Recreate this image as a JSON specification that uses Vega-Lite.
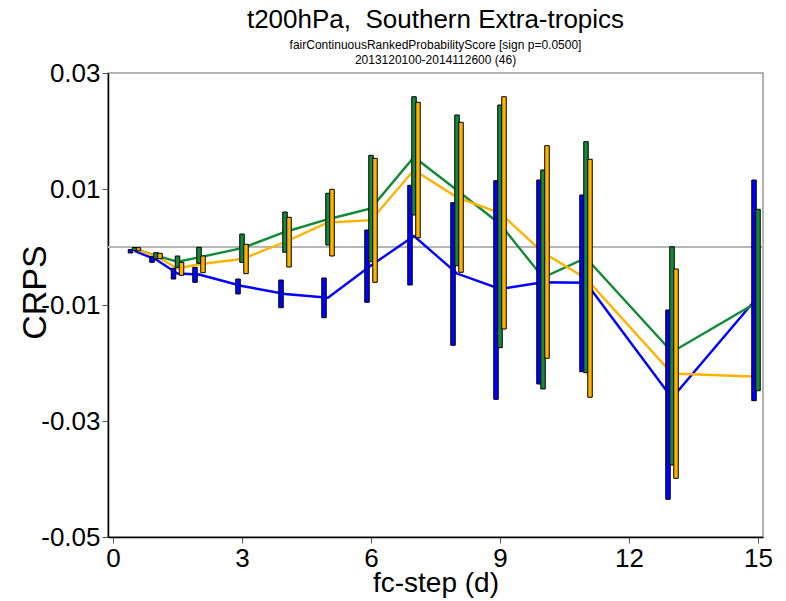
{
  "$schema": "https://vega.github.io/schema/vega-lite/v6.json",
  "autosize": "none",
  "width": 655,
  "height": 464,
  "padding": {"left": 108, "top": 73, "right": 23, "bottom": 64},
  "title": {
    "text": "t200hPa,\u00a0 Southern Extra-tropics",
    "subtitle": ["fairContinuousRankedProbabilityScore [sign p=0.0500]", "2013120100-2014112600 (46)"],
    "fontSize": 26,
    "fontWeight": "normal",
    "subtitleFontSize": 12,
    "subtitlePadding": 7,
    "subtitleLineHeight": 15,
    "anchor": "middle",
    "offset": -6,
    "color": "black",
    "subtitleColor": "black"
  },
  "config": {
    "font": "Liberation Sans",
    "view": {"stroke": "#999999", "strokeWidth": 1.5},
    "axis": {"grid": false, "domainColor": "black", "tickColor": "#555555", "labelColor": "black", "titleColor": "black", "labelFontSize": 26, "titleFontSize": 28, "titleFontWeight": "normal", "tickSize": 6, "domainWidth": 1.5}
  },
  "data": {
    "values": [
      {"series": "exp1", "d": 0.5, "v": -0.00069, "lo": -0.00103, "hi": -0.00043},
      {"series": "exp1", "d": 1, "v": -0.00216, "lo": -0.00264, "hi": -0.00167},
      {"series": "exp1", "d": 1.5, "v": -0.00457, "lo": -0.00552, "hi": -0.00367},
      {"series": "exp1", "d": 2, "v": -0.00474, "lo": -0.00609, "hi": -0.0035},
      {"series": "exp1", "d": 3, "v": -0.00672, "lo": -0.0081, "hi": -0.00552},
      {"series": "exp1", "d": 4, "v": -0.0081, "lo": -0.01047, "hi": -0.00569},
      {"series": "exp1", "d": 5, "v": -0.00874, "lo": -0.01219, "hi": -0.00534},
      {"series": "exp1", "d": 6, "v": -0.00319, "lo": -0.00953, "hi": 0.00293},
      {"series": "exp1", "d": 7, "v": 0.0019, "lo": -0.00655, "hi": 0.01064},
      {"series": "exp1", "d": 8, "v": -0.00457, "lo": -0.01695, "hi": 0.00764},
      {"series": "exp1", "d": 9, "v": -0.00724, "lo": -0.02626, "hi": 0.01143},
      {"series": "exp1", "d": 10, "v": -0.00609, "lo": -0.02362, "hi": 0.01155},
      {"series": "exp1", "d": 11, "v": -0.00616, "lo": -0.0215, "hi": 0.00897},
      {"series": "exp1", "d": 13, "v": -0.02603, "lo": -0.0435, "hi": -0.01086},
      {"series": "exp1", "d": 15, "v": -0.00857, "lo": -0.0265, "hi": 0.01155},
      {"series": "exp2", "d": 0.5, "v": -0.00034, "lo": -0.0006, "hi": -0.00009},
      {"series": "exp2", "d": 1, "v": -0.00147, "lo": -0.00202, "hi": -0.00098},
      {"series": "exp2", "d": 1.5, "v": -0.00253, "lo": -0.0035, "hi": -0.00155},
      {"series": "exp2", "d": 2, "v": -0.00178, "lo": -0.00281, "hi": -0.00005},
      {"series": "exp2", "d": 3, "v": -0.0002, "lo": -0.00264, "hi": 0.00224},
      {"series": "exp2", "d": 4, "v": 0.00259, "lo": -0.00091, "hi": 0.00603},
      {"series": "exp2", "d": 5, "v": 0.00479, "lo": 0.00034, "hi": 0.00926},
      {"series": "exp2", "d": 6, "v": 0.00666, "lo": -0.00253, "hi": 0.01581},
      {"series": "exp2", "d": 7, "v": 0.01552, "lo": 0.00552, "hi": 0.02591},
      {"series": "exp2", "d": 8, "v": 0.00979, "lo": -0.00322, "hi": 0.02276},
      {"series": "exp2", "d": 9, "v": 0.00397, "lo": -0.01736, "hi": 0.02448},
      {"series": "exp2", "d": 10, "v": -0.00526, "lo": -0.02448, "hi": 0.01328},
      {"series": "exp2", "d": 11, "v": -0.0019, "lo": -0.02167, "hi": 0.01816},
      {"series": "exp2", "d": 13, "v": -0.0181, "lo": -0.03759, "hi": 0.00005},
      {"series": "exp2", "d": 15, "v": -0.00943, "lo": -0.02478, "hi": 0.0065},
      {"series": "exp3", "d": 0.5, "v": -0.00034, "lo": -0.00064, "hi": -0.00012},
      {"series": "exp3", "d": 1, "v": -0.00155, "lo": -0.00202, "hi": -0.00109},
      {"series": "exp3", "d": 1.5, "v": -0.00371, "lo": -0.00488, "hi": -0.00264},
      {"series": "exp3", "d": 2, "v": -0.00298, "lo": -0.00443, "hi": -0.00155},
      {"series": "exp3", "d": 3, "v": -0.00207, "lo": -0.0046, "hi": 0.00047},
      {"series": "exp3", "d": 4, "v": 0.00086, "lo": -0.00345, "hi": 0.00512},
      {"series": "exp3", "d": 5, "v": 0.00422, "lo": -0.00155, "hi": 0.00995},
      {"series": "exp3", "d": 6, "v": 0.00462, "lo": -0.00609, "hi": 0.01529},
      {"series": "exp3", "d": 7, "v": 0.01328, "lo": 0.0016, "hi": 0.02495},
      {"series": "exp3", "d": 8, "v": 0.00857, "lo": -0.00436, "hi": 0.0215},
      {"series": "exp3", "d": 9, "v": 0.00586, "lo": -0.01414, "hi": 0.02591},
      {"series": "exp3", "d": 10, "v": -0.00095, "lo": -0.01919, "hi": 0.01747},
      {"series": "exp3", "d": 11, "v": -0.00543, "lo": -0.02591, "hi": 0.01512},
      {"series": "exp3", "d": 13, "v": -0.02181, "lo": -0.03988, "hi": -0.00379},
      {"series": "exp3", "d": 15, "v": -0.02236, "lo": null, "hi": null}
    ]
  },
  "encoding": {
    "x": {
      "field": "d", "type": "quantitative", "title": "fc-step (d)",
      "scale": {"domain": [0, 15], "nice": false},
      "axis": {"values": [0, 3, 6, 9, 12, 15], "labelPadding": 2, "titlePadding": -2, "labelFlush": false}
    },
    "color": {
      "field": "series", "type": "nominal", "legend": null,
      "scale": {"domain": ["exp1", "exp2", "exp3"], "range": ["#0000ff", "#138a36", "#ffb300"]}
    }
  },
  "layer": [
    {
      "mark": {"type": "rule", "color": "#b5b5b5", "strokeWidth": 1.2},
      "encoding": {"y": {"datum": 0, "type": "quantitative"}, "color": {"value": "#b5b5b5"}, "x": {"value": 0}, "x2": {"value": 655}}
    },
    {
      "mark": {"type": "line", "strokeWidth": 2.4, "clip": true},
      "encoding": {
        "y": {
          "field": "v", "type": "quantitative", "title": "CRPS",
          "scale": {"domain": [-0.05, 0.03], "nice": false, "zero": false},
          "axis": {
            "values": [0.03, 0.01, -0.01, -0.03, -0.05],
            "labelExpr": "datum.value < 0 ? '-' + format(-datum.value, '.2f') : format(datum.value, '.2f')",
            "labelPadding": 2,
            "titleX": -73, "titleY": 219, "titleAlign": "center", "titleBaseline": "middle", "titleAngle": 270, "titleFontSize": 34
          }
        }
      }
    },
    {
      "transform": [{"filter": "datum.series == 'exp1' && isValid(datum.lo)"}],
      "mark": {"type": "bar", "width": 4.5, "stroke": "black", "strokeWidth": 1, "xOffset": -4, "clip": true},
      "encoding": {"y": {"field": "lo", "type": "quantitative"}, "y2": {"field": "hi"}}
    },
    {
      "transform": [{"filter": "datum.series == 'exp2' && isValid(datum.lo)"}],
      "mark": {"type": "bar", "width": 4.5, "stroke": "black", "strokeWidth": 1, "xOffset": 0, "clip": true},
      "encoding": {"y": {"field": "lo", "type": "quantitative"}, "y2": {"field": "hi"}}
    },
    {
      "transform": [{"filter": "datum.series == 'exp3' && isValid(datum.lo)"}],
      "mark": {"type": "bar", "width": 4.5, "stroke": "black", "strokeWidth": 1, "xOffset": 4, "clip": true},
      "encoding": {"y": {"field": "lo", "type": "quantitative"}, "y2": {"field": "hi"}}
    }
  ]
}
